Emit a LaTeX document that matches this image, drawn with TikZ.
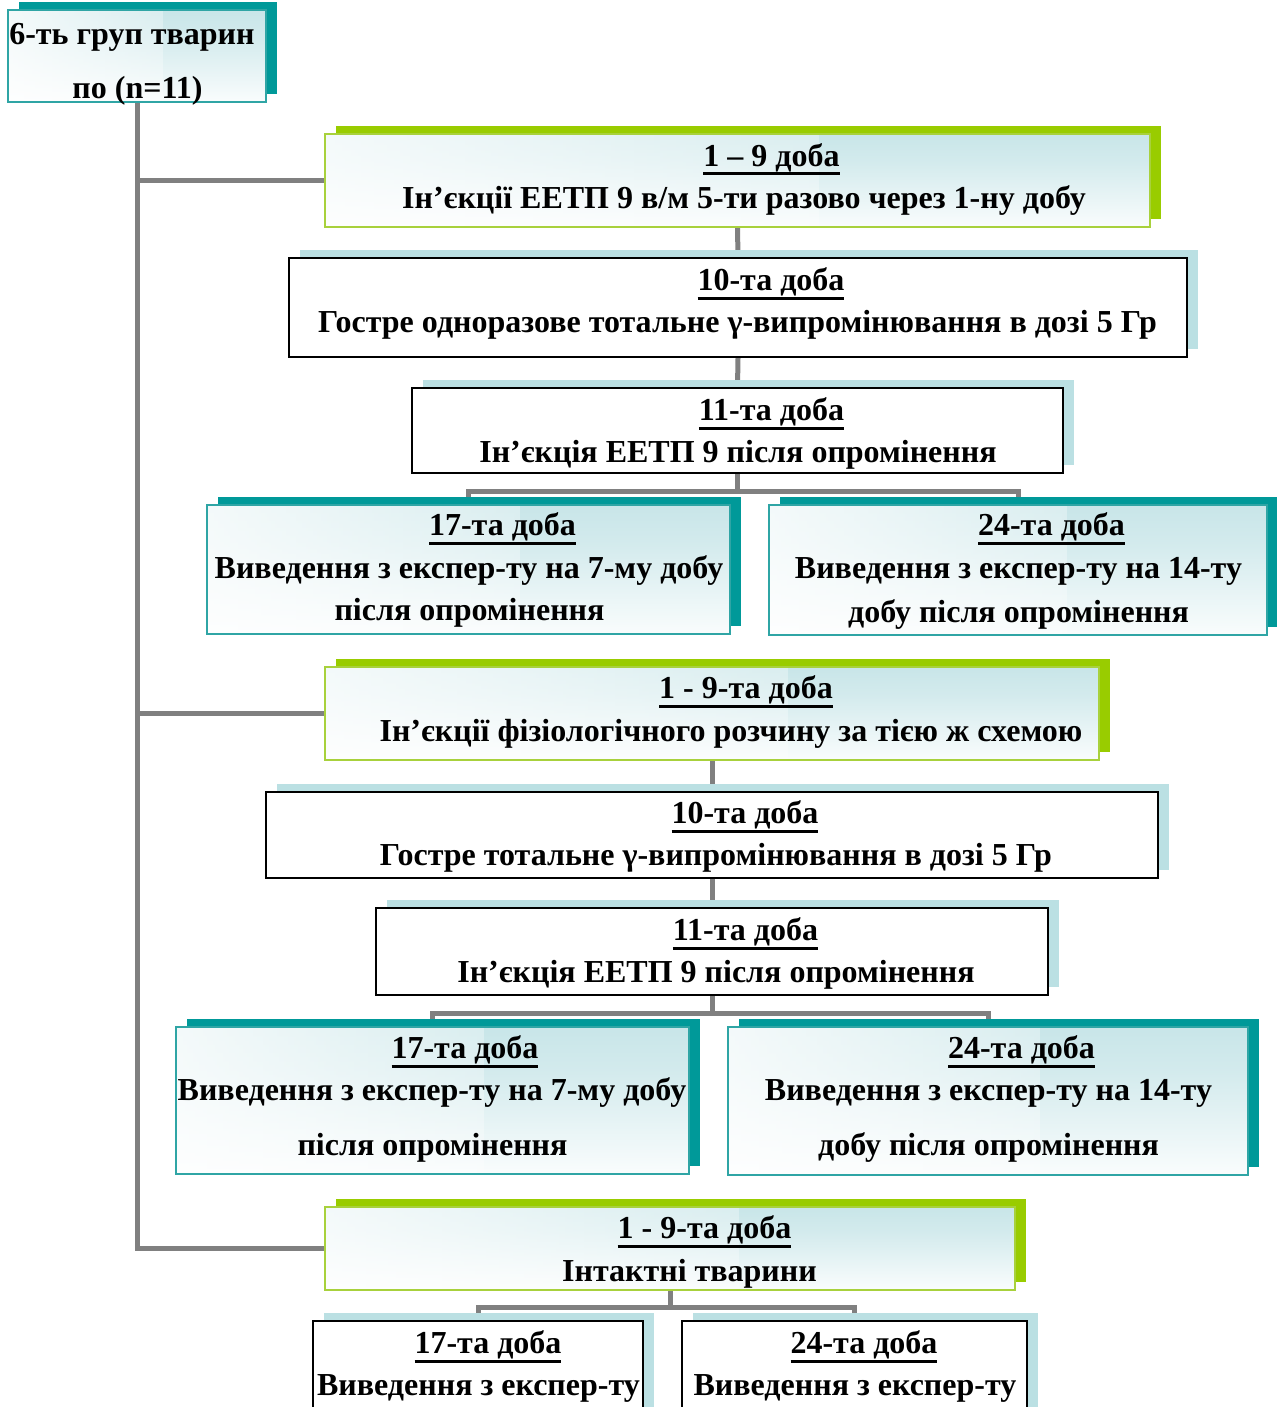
\documentclass[tikz,border=0pt]{standalone}
\usepackage{fontspec}
\setmainfont{Liberation Serif}
\newcommand{\myul}[1]{\setbox0\hbox{#1}\rlap{\rule[-9pt]{\wd0}{3pt}}\box0}
\usetikzlibrary{shadows,backgrounds,calc,fadings}
\definecolor{tealS}{HTML}{009999}
\definecolor{greenS}{HTML}{99CC00}
\definecolor{blueS}{HTML}{BBE0E3}
\definecolor{tealB}{HTML}{2FA5A5}
\definecolor{greenB}{HTML}{A8D13C}
\definecolor{gradC}{HTML}{B6DDE1}
\definecolor{connC}{HTML}{808080}
\pgfdeclareverticalshading{boxgrad}{100bp}{color(0bp)=(white); color(20bp)=(white); color(60bp)=(gradC!60); color(100bp)=(gradC)}
\tikzfading[name=fadeR, left color=transparent!0, right color=transparent!100]
\tikzset{
  base box/.style={rectangle, inner sep=0pt, line width=2pt},
  grad/.style={shade, shading=boxgrad,
    path picture={\fill[white, fill opacity=0.8, path fading=fadeR]
      (path picture bounding box.south west) rectangle
      ($(path picture bounding box.north west)!0.6!(path picture bounding box.north east)$);}},
  teal box/.style={base box, draw=tealB, grad,
    general shadow={fill=tealS, shadow xshift=11pt, shadow yshift=8pt}},
  green box/.style={base box, draw=greenB, grad,
    general shadow={fill=greenS, shadow xshift=11pt, shadow yshift=8pt}},
  white box/.style={base box, draw=black, fill=white,
    general shadow={fill=blueS, shadow xshift=11pt, shadow yshift=8pt}},
  conn/.style={draw=connC, line width=5pt},
  txt/.style={anchor=base, inner sep=0pt, yshift=-2.5pt, font=\fontsize{32}{38}\selectfont\bfseries},
}
\begin{document}
\begin{tikzpicture}[x=1pt, y=-1pt]
\useasboundingbox (0,0) rectangle (1276,1407);
% boxes
\node[teal box, minimum width=258pt, minimum height=92pt] (b0) at (137,56) {};
\node[green box, minimum width=825pt, minimum height=93pt] (a1) at (737.5,180.5) {};
\node[white box, minimum width=898pt, minimum height=99pt] (a2) at (738,307.5) {};
\node[white box, minimum width=651pt, minimum height=85pt] (a3) at (737.5,430.5) {};
\node[teal box, minimum width=523pt, minimum height=129pt] (b1) at (468.5,569.5) {};
\node[teal box, minimum width=498pt, minimum height=130pt] (b2) at (1018,570) {};
\node[green box, minimum width=774pt, minimum height=93pt] (c1) at (712,713.5) {};
\node[white box, minimum width=892pt, minimum height=86pt] (c2) at (712,835) {};
\node[white box, minimum width=672pt, minimum height=87pt] (c3) at (712,951.5) {};
\node[teal box, minimum width=513pt, minimum height=147pt] (d1) at (432.5,1100.5) {};
\node[teal box, minimum width=520pt, minimum height=148pt] (d2) at (988,1101) {};
\node[green box, minimum width=690pt, minimum height=83pt] (e1) at (670,1248.5) {};
\node[white box, minimum width=330pt, minimum height=138pt] (f1) at (478,1390) {};
\node[white box, minimum width=345pt, minimum height=138pt] (f2) at (854.5,1390) {};
% connectors
\coordinate (fa) at ($(a3.south)+(0,17)$);
\coordinate (fc) at ($(c3.south)+(0,17)$);
\coordinate (fe) at ($(e1.south)+(0,16)$);
\begin{pgfonlayer}{background}
\draw[conn] (b0.south) |- (e1.west);
\draw[conn] (b0.south |- a1.west) -- (a1.west);
\draw[conn] (b0.south |- c1.west) -- (c1.west);
\draw[conn] (a1.south) -- (a2.north);
\draw[conn] (a2.south) -- (a3.north);
\draw[conn] (a3.south) -- (fa);
\draw[conn] (b1.north) |- (fa) -| (b2.north);
\draw[conn] (c1.south) -- (c2.north);
\draw[conn] (c2.south) -- (c3.north);
\draw[conn] (c3.south) -- (fc);
\draw[conn] (d1.north) |- (fc) -| (d2.north);
\draw[conn] (e1.south) -- (fe);
\draw[conn] (f1.north) |- (fe) -| (f2.north);
\end{pgfonlayer}
% texts
\node[txt] (t0a) at (132,42) {6-ть груп тварин};
\node[txt] (t0b) at (137.5,96) {по (n=11)};
\node[txt] (ta1h) at (771.5,164) {\myul{1 – 9 доба}};
\node[txt] (ta1b) at (744,206) {Ін’єкції ЕЕТП 9 в/м 5-ти разово через 1-ну добу};
\node[txt] (ta2h) at (771,288) {\myul{10-та доба}};
\node[txt] (ta2b) at (737.5,330) {Гостре одноразове тотальне γ-випромінювання в дозі 5 Гр};
\node[txt] (ta3h) at (771.5,418) {\myul{11-та доба}};
\node[txt] (ta3b) at (738,460) {Ін’єкція ЕЕТП 9 після опромінення};
\node[txt] (tb1h) at (502.5,533) {\myul{17-та доба}};
\node[txt] (tb1b) at (469,576) {Виведення з експер-ту на 7-му добу};
\node[txt] (tb1c) at (469.5,618) {після опромінення};
\node[txt] (tb2h) at (1051.5,533) {\myul{24-та доба}};
\node[txt] (tb2b) at (1018.5,576) {Виведення з експер-ту на 14-ту};
\node[txt] (tb2c) at (1018.5,620) {добу після опромінення};
\node[txt] (tc1h) at (746,696) {\myul{1 - 9-та доба}};
\node[txt] (tc1b) at (731,739) {Ін’єкції фізіологічного розчину за тією ж схемою};
\node[txt] (tc2h) at (745,821) {\myul{10-та доба}};
\node[txt] (tc2b) at (716,863) {Гостре тотальне γ-випромінювання в дозі 5 Гр};
\node[txt] (tc3h) at (745.5,938) {\myul{11-та доба}};
\node[txt] (tc3b) at (716,980) {Ін’єкція ЕЕТП 9 після опромінення};
\node[txt] (td1h) at (465,1056) {\myul{17-та доба}};
\node[txt] (td1b) at (432,1098) {Виведення з експер-ту на 7-му добу};
\node[txt] (td1c) at (432.5,1153) {після опромінення};
\node[txt] (td2h) at (1021.5,1056) {\myul{24-та доба}};
\node[txt] (td2b) at (988.5,1098) {Виведення з експер-ту на 14-ту};
\node[txt] (td2c) at (988.5,1153) {добу після опромінення};
\node[txt] (te1h) at (704.5,1236) {\myul{1 - 9-та доба}};
\node[txt] (te1b) at (689.5,1279) {Інтактні тварини};
\node[txt] (tf1h) at (488,1351) {\myul{17-та доба}};
\node[txt] (tf1b) at (478.5,1393) {Виведення з експер-ту};
\node[txt] (tf2h) at (864,1351) {\myul{24-та доба}};
\node[txt] (tf2b) at (855,1393) {Виведення з експер-ту};
\end{tikzpicture}
\end{document}
